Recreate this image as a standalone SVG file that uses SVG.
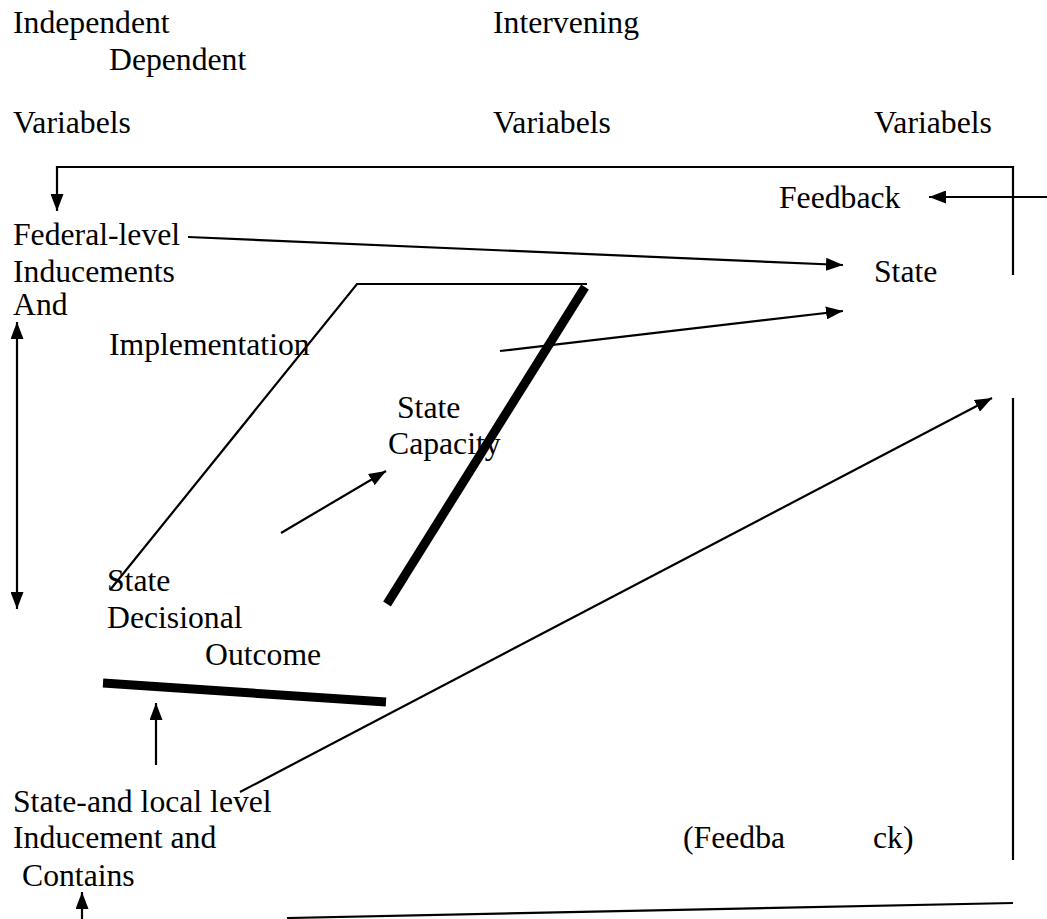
<svg xmlns="http://www.w3.org/2000/svg" width="1047" height="919" viewBox="0 0 1047 919">
  <defs>
    <marker id="head" viewBox="0 0 17 13" refX="17" refY="6.5" markerWidth="17" markerHeight="13" markerUnits="userSpaceOnUse" orient="auto-start-reverse">
      <path d="M0,0 L17,6.5 L0,13 Z" fill="#000"/>
    </marker>
    <style>
      text { font-family: "Liberation Serif", "Times New Roman", serif; font-size: 31.7px; fill: #000; }
      .ln { stroke: #000; stroke-width: 2.2; fill: none; }
      .thick { stroke: #000; stroke-width: 9; fill: none; }
      .arr { marker-end: url(#head); }
    </style>
  </defs>
  <rect width="1047" height="919" fill="#fff"/>

  <g font-family="Liberation Serif, Times New Roman, serif">
  <!-- column headings -->
  <g id="headings">
    <text x="13" y="33">Independent</text>
    <text x="109" y="70">Dependent</text>
    <text x="13" y="133">Variabels</text>
    <text x="493" y="33">Intervening</text>
    <text x="493" y="133">Variabels</text>
    <text x="874" y="133">Variabels</text>
  </g>

  <g id="feedback-label"><text x="779" y="208">Feedback</text></g>
  <g id="federal">
    <text x="13" y="245">Federal-level</text>
    <text x="13" y="282">Inducements</text>
    <text x="13" y="315">And</text>
  </g>
  <g id="state-outcome"><text x="874" y="282">State</text></g>
  <g id="implementation"><text x="109" y="355">Implementation</text></g>
  <g id="state-capacity">
    <text x="397" y="418">State</text>
    <text x="388" y="454">Capacity</text>
  </g>
  <g id="state-decisional">
    <text x="107" y="591">State</text>
    <text x="107" y="628">Decisional</text>
    <text x="205" y="665">Outcome</text>
  </g>
  <g id="state-local">
    <text x="13" y="812">State-and local level</text>
    <text x="13" y="848">Inducement and</text>
    <text x="22" y="886">Contains</text>
  </g>
  <g id="feedback-bottom">
    <text x="683" y="848">(Feedba</text>
    <text x="873" y="848">ck)</text>
  </g>
  </g>

  <g id="connectors">
    <!-- top feedback loop -->
    <path class="ln arr" d="M1013,275 L1013,167 L57,167 L57,211"/>
    <line class="ln arr" x1="1047" y1="197" x2="929" y2="197"/>
    <!-- federal inducements to state -->
    <line class="ln arr" x1="188" y1="237" x2="843" y2="265"/>
    <!-- parallelogram frame -->
    <path class="ln" d="M110,590 L357,284 L587,284"/>
    <line class="thick" x1="585" y1="287" x2="387" y2="604"/>
    <line class="thick" x1="103" y1="683" x2="386" y2="702"/>
    <!-- implementation to state -->
    <line class="ln arr" x1="500" y1="351" x2="843" y2="311"/>
    <!-- decisional outcome to capacity -->
    <line class="ln arr" x1="281" y1="533" x2="386" y2="471"/>
    <!-- vertical double arrow -->
    <line class="ln arr" x1="17" y1="465" x2="17" y2="322"/>
    <line class="ln arr" x1="17" y1="465" x2="17" y2="609"/>
    <!-- local inducement arrows -->
    <line class="ln arr" x1="156" y1="765" x2="156" y2="703"/>
    <line class="ln arr" x1="240" y1="792" x2="992" y2="398"/>
    <!-- lower feedback path -->
    <line class="ln" x1="1013" y1="398" x2="1013" y2="860"/>
    <line class="ln" x1="287" y1="918" x2="1013" y2="903"/>
    <line class="ln arr" x1="82" y1="919" x2="82" y2="892"/>
  </g>
</svg>
